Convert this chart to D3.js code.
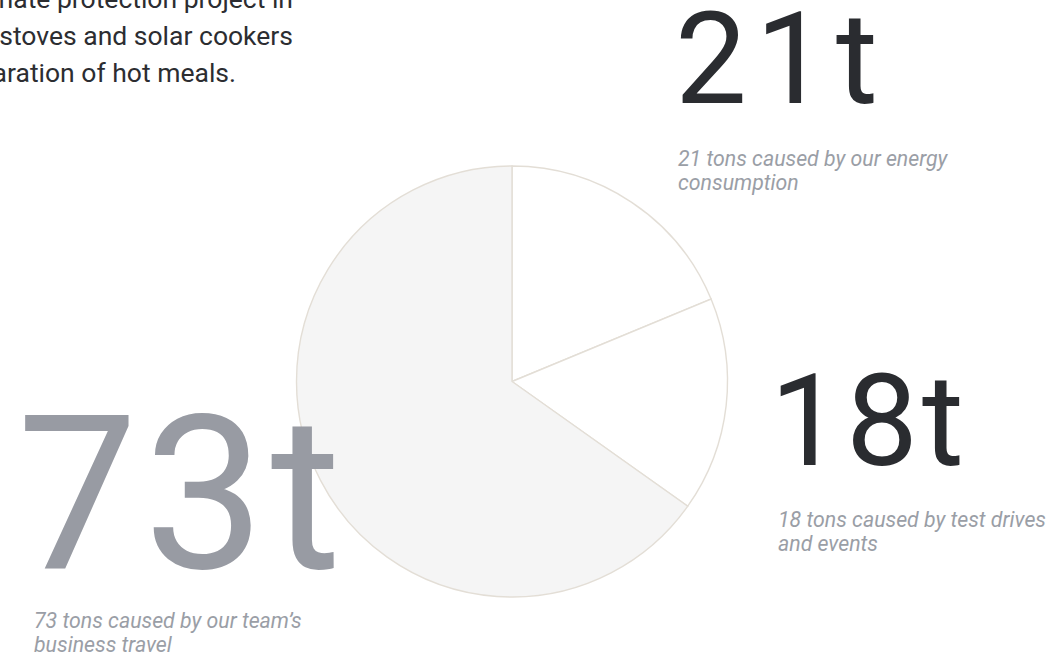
<!DOCTYPE html>
<html>
<head>
<meta charset="utf-8">
<script src="https://cdn.jsdelivr.net/npm/d3@7"></script>
<style>
  html, body { margin: 0; padding: 0; background: #ffffff; overflow: hidden; }
  svg { display: block; }
</style>
</head>
<body>
<svg id="chart" width="1050" height="654"></svg>
<script>
// ---- data ----
const categories = ["energy consumption", "test drives and events", "business travel"];
const values = [21, 18, 73];
const bigLabels = ["21t", "18t", "73t"];
const captions = [
  ["21 tons caused by our energy", "consumption"],
  ["18 tons caused by test drives", "and events"],
  ["73 tons caused by our team\u2019s", "business travel"]
];
const introLines = ["a climate protection project in", "efficient stoves and solar cookers", "for the preparation of hot meals."];

// ---- layout ----
const W = 1050, H = 654;
const svg = d3.select("#chart");
const cx = 512, cy = 381.5, R = 215.5;

const sliceFill = ["#ffffff", "#ffffff", "#f5f5f5"];
const strokeCol = "#e3ded6";

const pie = d3.pie().sort(null).value(d => d)(values);
const arc = d3.arc().innerRadius(0).outerRadius(R);

const g = svg.append("g").attr("transform", `translate(${cx},${cy})`);

// big number for 73t is drawn behind the pie
svg.append("text")
  .attr("x", 17).attr("y", 568)
  .attr("font-family", "Roboto").attr("font-weight", 400)
  .attr("font-size", 215).attr("letter-spacing", 6)
  .attr("fill", "#989ba3")
  .text(bigLabels[2]);

g.selectAll("path").data(pie).enter().append("path")
  .attr("d", arc)
  .attr("fill", (d, i) => sliceFill[i])
  .attr("stroke", strokeCol)
  .attr("stroke-width", 1.4);

// intro paragraph (clipped at top-left)
const intro = svg.append("text")
  .attr("font-family", "Roboto").attr("font-size", 26.5)
  .attr("fill", "#2c2d31").attr("text-anchor", "end");
const introX = [293, 293, 236], introY = [8, 45, 82];
introLines.forEach((t, i) => intro.append("tspan").attr("x", introX[i]).attr("y", introY[i]).text(t));

// big numbers
const bigPos = [[675, 103, 128, "#2a2c30", 8.5], [770, 465, 128, "#2a2c30", 4]];
bigPos.forEach((p, i) => {
  svg.append("text")
    .attr("x", p[0]).attr("y", p[1])
    .attr("font-family", "Roboto").attr("font-weight", 400)
    .attr("font-size", p[2]).attr("letter-spacing", p[4])
    .attr("fill", p[3])
    .text(bigLabels[i]);
});

// captions
const capPos = [[678, 166], [778, 527], [34, 628]];
captions.forEach((lines, i) => {
  const t = svg.append("text")
    .attr("font-family", "Roboto").attr("font-style", "italic")
    .attr("font-size", 21.3).attr("fill", "#9a9ea6");
  lines.forEach((s, j) => t.append("tspan")
    .attr("x", capPos[i][0]).attr("y", capPos[i][1] + j * 23.5).text(s));
});
</script>
</body>
</html>
